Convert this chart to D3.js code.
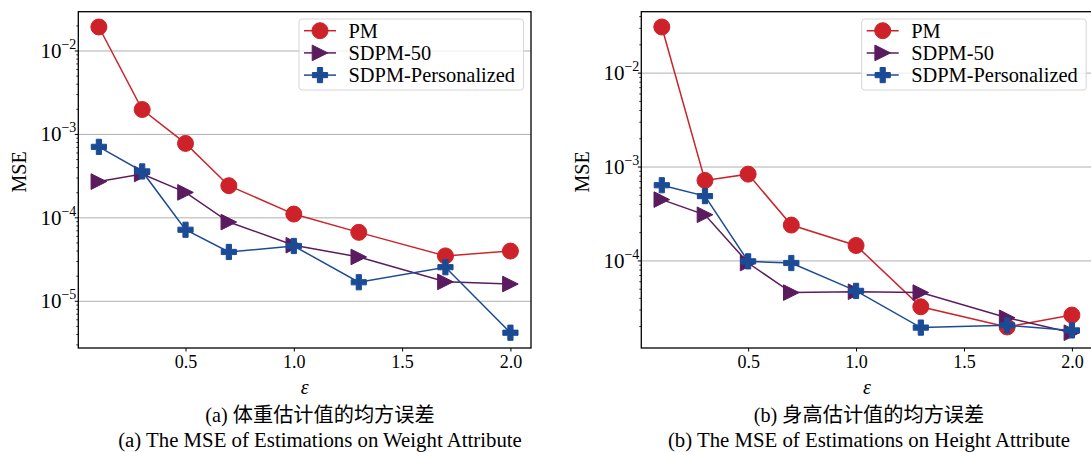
<!DOCTYPE html>
<html>
<head>
<meta charset="utf-8">
<script src="https://cdn.jsdelivr.net/npm/d3@7"></script>
<style>
  body { margin: 0; background: #fff; overflow: hidden; }
  text { font-family: "Liberation Serif", "Noto Sans CJK SC", serif; fill: #000; }
</style>
</head>
<body>
<div id="chart"></div>
<script>
// values
const epsilons = [0.1, 0.3, 0.5, 0.7, 1.0, 1.3, 1.7, 2.0]
const seriesNames = ['PM', 'SDPM-50', 'SDPM-Personalized']

const weightPM = [1.94e-2, 1.99e-3, 7.8e-4, 2.43e-4, 1.11e-4, 6.7e-5, 3.5e-5, 4.0e-5]
const weightSDPM50 = [2.72e-4, 3.36e-4, 2.02e-4, 8.9e-5, 4.7e-5, 3.4e-5, 1.71e-5, 1.61e-5]
const weightSDPMPers = [7.1e-4, 3.6e-4, 7.2e-5, 3.9e-5, 4.6e-5, 1.69e-5, 2.56e-5, 4.2e-6]

const heightPM = [3.1e-2, 7.2e-4, 8.4e-4, 2.41e-4, 1.46e-4, 3.25e-5, 1.98e-5, 2.65e-5]
const heightSDPM50 = [4.5e-4, 3.1e-4, 9.5e-5, 4.6e-5, 4.7e-5, 4.6e-5, 2.48e-5, 1.72e-5]
const heightSDPMPers = [6.4e-4, 4.9e-4, 9.9e-5, 9.5e-5, 4.8e-5, 1.95e-5, 2.06e-5, 1.82e-5]

const xTicks = [0.5, 1.0, 1.5, 2.0]
const weightDecades = [-5, -4, -3, -2]
const heightDecades = [-4, -3, -2]

const captionsA = ['(a) 体重估计值的均方误差', '(a) The MSE of Estimations on Weight Attribute']
const captionsB = ['(b) 身高估计值的均方误差', '(b) The MSE of Estimations on Height Attribute']

const colors = ['#cd2229', '#5b1c5f', '#1c4b96']
const shapes = ['circle', 'triangle', 'plus']

const svg = d3.select('#chart')
  .append('svg')
  .attr('width', 1091)
  .attr('height', 452)

function markerPath(shape) {
  if (shape === 'triangle') {
    const s = 7.8
    return `M${s},0L${-s},${-s}L${-s},${s}Z`
  }
  if (shape === 'plus') {
    const a = 2.6, b = 7.6
    return `M${-a},${-b}H${a}V${-a}H${b}V${a}H${a}V${b}H${-a}V${a}H${-b}V${-a}H${-a}Z`
  }
  return d3.symbol(d3.symbolCircle, Math.PI * 8 * 8)()
}

function drawPanel(opts) {
  const { left, right, top, bottom, series, decades, captions, captionX, legendX } = opts

  // matplotlib style 5% margins
  const xScale = d3.scaleLinear()
    .domain([0.1 - 0.095, 2.0 + 0.095])
    .range([left, right])

  const all = series.flat()
  const lo = Math.log10(d3.min(all))
  const hi = Math.log10(d3.max(all))
  const pad = (hi - lo) * 0.05
  const yScale = d3.scaleLog()
    .domain([Math.pow(10, lo - pad), Math.pow(10, hi + pad)])
    .range([bottom, top])

  const g = svg.append('g')

  // grid
  g.selectAll('line.grid')
    .data(decades)
    .join('line')
    .attr('x1', left)
    .attr('x2', right)
    .attr('y1', (d) => yScale(Math.pow(10, d)))
    .attr('y2', (d) => yScale(Math.pow(10, d)))
    .attr('stroke', '#b0b0b0')
    .attr('stroke-width', 1)

  // minor ticks
  const [d0, d1] = yScale.domain()
  const minors = []
  for (let k = Math.floor(Math.log10(d0)); k <= Math.ceil(Math.log10(d1)); k++) {
    for (let m = 2; m <= 9; m++) {
      const v = m * Math.pow(10, k)
      if (v >= d0 && v <= d1) minors.push(v)
    }
  }
  g.selectAll('line.minor')
    .data(minors)
    .join('line')
    .attr('x1', left - 2)
    .attr('x2', left)
    .attr('y1', (d) => yScale(d))
    .attr('y2', (d) => yScale(d))
    .attr('stroke', '#000')
    .attr('stroke-width', 0.8)

  // major y ticks + labels
  g.selectAll('line.major')
    .data(decades)
    .join('line')
    .attr('x1', left - 3.5)
    .attr('x2', left)
    .attr('y1', (d) => yScale(Math.pow(10, d)))
    .attr('y2', (d) => yScale(Math.pow(10, d)))
    .attr('stroke', '#000')
    .attr('stroke-width', 1)

  const yl = g.selectAll('text.ylab')
    .data(decades)
    .join('text')
    .attr('x', left - 2)
    .attr('y', (d) => yScale(Math.pow(10, d)) + 7)
    .attr('text-anchor', 'end')
    .style('font-size', '21px')
  yl.append('tspan').text('10')
  yl.append('tspan')
    .attr('dy', -9)
    .style('font-size', '14px')
    .text((d) => '\u2212' + Math.abs(d))

  // x axis
  g.append('g')
    .attr('transform', `translate(0, ${bottom})`)
    .call(d3.axisBottom(xScale).tickValues(xTicks).tickSize(3.5).tickSizeOuter(0).tickFormat(d3.format('.1f')))
    .call((a) => a.select('.domain').remove())
    .call((a) => a.selectAll('text')
      .attr('y', 7)
      .style('font-family', '"Liberation Serif", serif')
      .style('font-size', '18px'))

  // series
  const line = d3.line()
    .x((d, i) => xScale(epsilons[i]))
    .y((d) => yScale(d))

  series.forEach((vals, si) => {
    g.append('path')
      .datum(vals)
      .attr('d', line)
      .attr('fill', 'none')
      .attr('stroke', colors[si])
      .attr('stroke-width', 1.5)
    g.selectAll(null)
      .data(vals)
      .join('path')
      .attr('transform', (d, i) => `translate(${xScale(epsilons[i])}, ${yScale(d)})`)
      .attr('d', markerPath(shapes[si]))
      .attr('fill', colors[si])
      .attr('stroke', colors[si])
      .attr('stroke-width', 1)
  })

  // frame
  g.append('rect')
    .attr('x', left)
    .attr('y', top)
    .attr('width', right - left)
    .attr('height', bottom - top)
    .attr('fill', 'none')
    .attr('stroke', '#000')
    .attr('stroke-width', 1.3)

  // legend
  const lg = g.append('g').attr('transform', `translate(${legendX}, 19)`)
  lg.append('rect')
    .attr('width', 224.5)
    .attr('height', 71)
    .attr('rx', 3)
    .attr('fill', 'rgba(255,255,255,0.8)')
    .attr('stroke', '#d6d6d6')
    .attr('stroke-width', 1)
  seriesNames.forEach((name, si) => {
    const y = 11.7 + si * 22.2
    lg.append('line')
      .attr('x1', 5)
      .attr('x2', 37)
      .attr('y1', y)
      .attr('y2', y)
      .attr('stroke', colors[si])
      .attr('stroke-width', 1.5)
    lg.append('path')
      .attr('transform', `translate(21, ${y})`)
      .attr('d', markerPath(shapes[si]))
      .attr('fill', colors[si])
      .attr('stroke', colors[si])
    lg.append('text')
      .attr('x', 49.5)
      .attr('y', y + 7)
      .style('font-size', '20.4px')
      .text(name)
  })

  // axis labels
  g.append('text')
    .attr('transform', `translate(${left - 52}, ${(top + bottom) / 2 - 8}) rotate(-90)`)
    .attr('text-anchor', 'middle')
    .style('font-size', '20px')
    .text('MSE')

  g.append('text')
    .attr('x', (left + right) / 2)
    .attr('y', 394)
    .attr('text-anchor', 'middle')
    .style('font-size', '20px')
    .style('font-style', 'italic')
    .text('\u03b5')

  g.selectAll('text.cap')
    .data(captions)
    .join('text')
    .attr('x', captionX)
    .attr('y', (d, i) => 422 + i * 25)
    .attr('text-anchor', 'middle')
    .style('font-size', (d, i) => i === 0 ? '20.2px' : '20.8px')
    .text((d) => d)
}

drawPanel({
  left: 78.3, right: 531, top: 11.7, bottom: 348,
  series: [weightPM, weightSDPM50, weightSDPMPers],
  decades: weightDecades,
  captions: captionsA,
  captionX: 320,
  legendX: 299
})

drawPanel({
  left: 641.3, right: 1092.4, top: 11.7, bottom: 348,
  series: [heightPM, heightSDPM50, heightSDPMPers],
  decades: heightDecades,
  captions: captionsB,
  captionX: 869,
  legendX: 861.7
})
</script>
</body>
</html>
